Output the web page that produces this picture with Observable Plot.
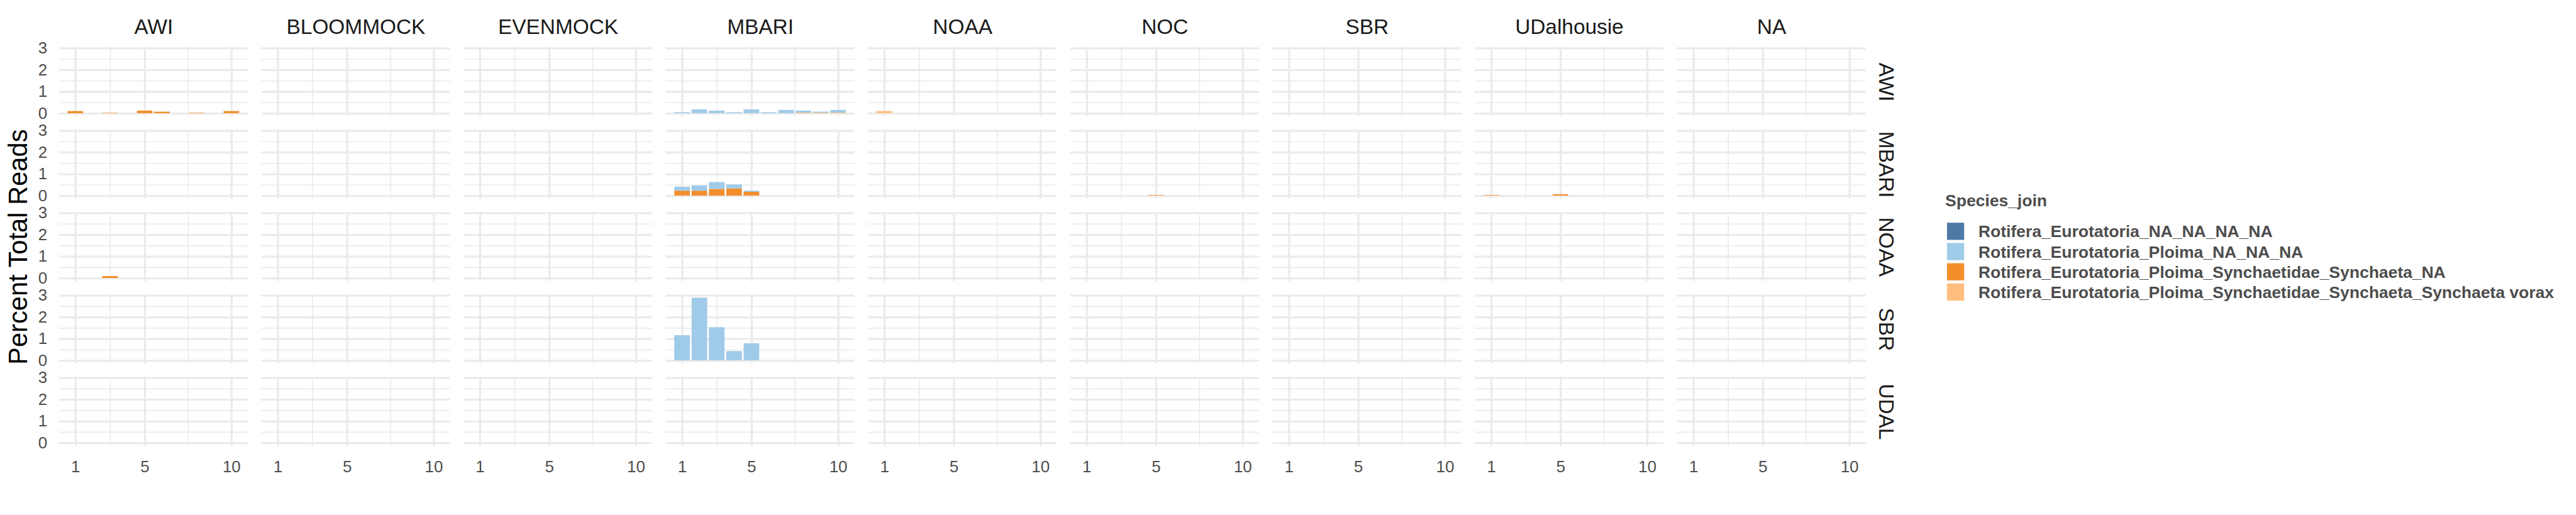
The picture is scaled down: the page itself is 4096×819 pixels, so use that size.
<!DOCTYPE html>
<html>
<head>
<meta charset="utf-8">
<script src="https://cdn.jsdelivr.net/npm/d3@7"></script>
<script src="https://cdn.jsdelivr.net/npm/@observablehq/plot@0.6"></script>
<style>
html, body { margin: 0; padding: 0; background: #ffffff; }
#wrap { position: relative; width: 4096px; height: 819px; overflow: hidden; background: #ffffff;
  font-family: "Liberation Sans", Arial, Helvetica, sans-serif; }
#wrap > svg { position: absolute; left: 0; top: 0; }
</style>
</head>
<body>
<div id="wrap"></div>
<script>
// ---------- data ----------
const institutions = ["AWI", "BLOOMMOCK", "EVENMOCK", "MBARI", "NOAA", "NOC", "SBR", "UDalhousie", "NA"];
const sites = ["AWI", "MBARI", "NOAA", "SBR", "UDAL"];
const species = [
  "Rotifera_Eurotatoria_NA_NA_NA_NA",
  "Rotifera_Eurotatoria_Ploima_NA_NA_NA",
  "Rotifera_Eurotatoria_Ploima_Synchaetidae_Synchaeta_NA",
  "Rotifera_Eurotatoria_Ploima_Synchaetidae_Synchaeta_Synchaeta vorax"
];
const speciesColors = ["#4E79A7", "#A0CBE8", "#F28E2B", "#FFBE7D"];
const samples = [1, 2, 3, 4, 5, 6, 7, 8, 9, 10];
const xBreaks = [1, 5, 10];
const xMinorBreaks = [3, 7.5];
const yBreaks = [0, 1, 2, 3];
const yMinorBreaks = [0.5, 1.5, 2.5];
const xDomain = [0.055, 10.945];
const yDomain = [-0.1445, 3.0345];
const yTitle = "Percent Total Reads";
const legendTitle = "Species_join";

// values per sample 1..10 (percent of total reads)
const awiAtAwi_SynchaetaNA     = [0.10, 0, 0.02, 0, 0.12, 0.07, 0, 0.02, 0, 0.10];
const mbariAtAwi_PloimaNA      = [0.045, 0.175, 0.12, 0.045, 0.175, 0.045, 0.15, 0.095, 0.045, 0.125];
const mbariAtAwi_Vorax         = [0, 0, 0, 0, 0, 0, 0, 0.025, 0.025, 0.025];
const noaaAtAwi_Vorax          = [0.10, 0, 0, 0, 0, 0, 0, 0, 0, 0];
const mbariAtMbari_SynchaetaNA = [0.228, 0.228, 0.307, 0.333, 0.175, 0, 0, 0, 0, 0];
const mbariAtMbari_PloimaNA    = [0.184, 0.237, 0.316, 0.185, 0.053, 0, 0, 0, 0, 0];
const nocAtMbari_SynchaetaNA   = [0, 0, 0, 0, 0.025, 0, 0, 0, 0, 0];
const udalAtMbari_SynchaetaNA  = [0.025, 0, 0, 0, 0.065, 0, 0, 0, 0, 0];
const awiAtNoaa_SynchaetaNA    = [0, 0, 0.09, 0, 0, 0, 0, 0, 0, 0];
const mbariAtSbr_PloimaNA      = [1.16, 2.89, 1.53, 0.43, 0.79, 0, 0, 0, 0, 0];

const seriesList = [
  ["AWI", "AWI", species[2], awiAtAwi_SynchaetaNA],
  ["MBARI", "AWI", species[1], mbariAtAwi_PloimaNA],
  ["MBARI", "AWI", species[3], mbariAtAwi_Vorax],
  ["NOAA", "AWI", species[3], noaaAtAwi_Vorax],
  ["MBARI", "MBARI", species[2], mbariAtMbari_SynchaetaNA],
  ["MBARI", "MBARI", species[1], mbariAtMbari_PloimaNA],
  ["NOC", "MBARI", species[2], nocAtMbari_SynchaetaNA],
  ["UDalhousie", "MBARI", species[2], udalAtMbari_SynchaetaNA],
  ["AWI", "NOAA", species[2], awiAtNoaa_SynchaetaNA],
  ["MBARI", "SBR", species[1], mbariAtSbr_PloimaNA]
];

// ---------- tables built from the arrays ----------
const bars = seriesList.flatMap(([inst, site, sp, vals]) =>
  vals.map((v, i) => ({inst, site, species: sp, sample: samples[i], value: v}))
).filter(d => d.value > 0);

const panels = sites.flatMap(site => institutions.map(inst => ({inst, site})));
const cross = (ticks) => panels.flatMap(p => ticks.map(t => ({...p, t})));

// ---------- layout (reference px * scale) ----------
const S = 0.91;
const W = 4096, H = 819;
const gridColor = "#EBEBEB";
const barWidth = 0.9;
const font = "'Liberation Sans', Arial, Helvetica, sans-serif";

const plot = Plot.plot({
  width: W,
  height: H,
  marginLeft: 103 * S,
  marginRight: W - 3260 * S,
  marginTop: 82.7 * S,
  marginBottom: H - 779.3 * S,
  fx: {domain: institutions, paddingInner: 0.0665, paddingOuter: 0, round: false, axis: null},
  fy: {domain: sites, paddingInner: 0.1625, paddingOuter: 0, round: false, axis: null},
  x: {domain: xDomain},
  y: {domain: yDomain},
  color: {domain: species, range: speciesColors},
  style: {fontFamily: font, background: "#ffffff", color: "#1A1A1A", overflow: "visible"},
  marks: [
    Plot.ruleY(cross(yMinorBreaks), {fx: "inst", fy: "site", y: "t", stroke: gridColor, strokeWidth: 1.8 * S}),
    Plot.ruleX(cross(xMinorBreaks), {fx: "inst", fy: "site", x: "t", stroke: gridColor, strokeWidth: 1.8 * S}),
    Plot.ruleY(cross(yBreaks), {fx: "inst", fy: "site", y: "t", stroke: gridColor, strokeWidth: 3.6 * S}),
    Plot.ruleX(cross(xBreaks), {fx: "inst", fy: "site", x: "t", stroke: gridColor, strokeWidth: 3.6 * S}),
    Plot.rectY(bars, {
      fx: "inst", fy: "site",
      x1: d => d.sample - barWidth / 2,
      x2: d => d.sample + barWidth / 2,
      y: "value",
      fill: "species",
      order: species.slice().reverse()
    }),
    Plot.axisY({ticks: yBreaks, tickFormat: d => String(d), tickSize: 0, tickPadding: 21 * S,
      fontSize: 28.5 * S, color: "#4D4D4D", label: null}),
    Plot.axisX({ticks: xBreaks, tickFormat: d => String(d), tickSize: 0, tickPadding: 25.5 * S,
      fontSize: 28.5 * S, color: "#4D4D4D", label: null}),
    Plot.text(institutions, {
      fx: d => d, fy: () => sites[0], text: d => d,
      frameAnchor: "top", dy: (46.8 - 82.7) * S, lineAnchor: "middle", textAnchor: "middle",
      fontSize: 36.7 * S, fill: "#1A1A1A"
    }),
    Plot.text(sites, {
      fy: d => d, fx: () => institutions[institutions.length - 1], text: d => d,
      frameAnchor: "right", dx: (3294.6 - 3260) * S, rotate: 90, lineAnchor: "middle", textAnchor: "middle",
      fontSize: 36.7 * S, fill: "#1A1A1A"
    }),
    Plot.text([yTitle], {
      fx: () => institutions[0], fy: () => sites[2], text: d => d,
      frameAnchor: "left", dx: (47 - 103) * S, rotate: -90, lineAnchor: "bottom", textAnchor: "middle",
      fontSize: 45.8 * S, fill: "#000000"
    })
  ]
});

const wrap = document.getElementById("wrap");
wrap.appendChild(plot);

// ---------- legend (right side) ----------
const color = plot.scale("color");
const lx = 3060, ly = 290;
const legFont = 29.1 * S;
const leg = d3.create("svg")
  .attr("width", W - lx).attr("height", 260)
  .style("position", "absolute").style("left", lx + "px").style("top", ly + "px")
  .style("font-family", font);
leg.append("text")
  .attr("x", 3399 * S - lx).attr("y", 360.5 * S - ly)
  .attr("font-size", legFont).attr("font-weight", "bold").attr("fill", "#4D4D4D")
  .text(legendTitle);
const keyTop0 = 389.2, keyPitch = 35.4, keySize = 30;
color.domain.forEach((sp, i) => {
  const top = (keyTop0 + i * keyPitch) * S - ly;
  leg.append("rect")
    .attr("x", 3402 * S - lx).attr("y", top)
    .attr("width", keySize * S).attr("height", keySize * S)
    .attr("fill", color.apply(sp));
  leg.append("text")
    .attr("x", 3457 * S - lx).attr("y", top + keySize * S / 2 + 0.358 * legFont)
    .attr("font-size", legFont).attr("font-weight", "bold").attr("fill", "#4D4D4D")
    .text(sp);
});
wrap.appendChild(leg.node());
</script>
</body>
</html>
